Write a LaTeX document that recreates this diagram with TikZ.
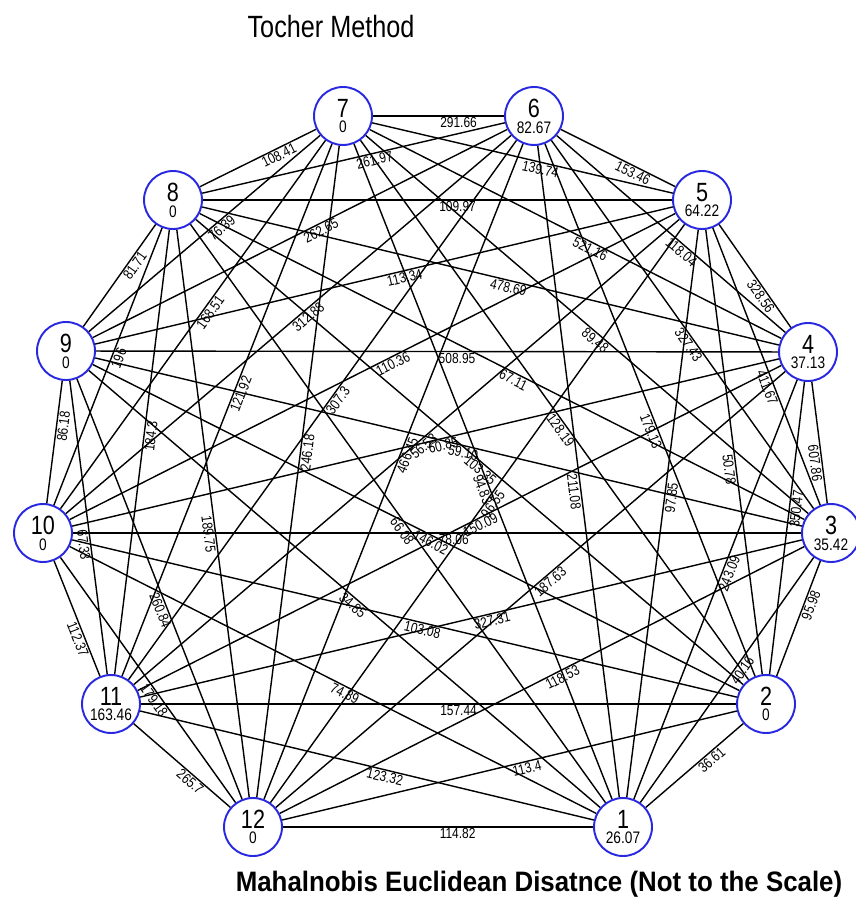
\documentclass[tikz,border=0pt]{standalone}
\usepackage{fontspec}
\setmainfont{Liberation Sans}[FakeStretch=0.82]
\newfontfamily\capfont{Liberation Sans}[FakeStretch=0.92]
\usetikzlibrary{positioning}
\definecolor{ringblue}{RGB}{40,40,225}
% number of the genotype over its intra-cluster value
\newcommand{\stn}[2]{\vbox{\offinterlineskip\halign{\hfil##\hfil\cr
  \fontsize{15}{15}\selectfont#1\cr\noalign{\kern2.3pt}
  \fontsize{9.5}{9.5}\selectfont#2\cr}}}

\begin{document}
\begin{tikzpicture}[x=0.02cm, y=-0.02cm,
  geno/.style={circle, draw=ringblue, line width=1.1pt, fill=white, minimum size=1.16cm, inner sep=0pt},
  link/.style={line width=0.8pt},
  wt/.style={font=\fontsize{8.3}{8.3}\selectfont, sloped, midway, anchor=north west, inner sep=0.6pt}
]
\useasboundingbox (0,0) rectangle (855,905);

\node[font=\fontsize{17.5}{20}\selectfont, anchor=base] (title) at (331,38) {Tocher Method};
\node[font=\capfont\bfseries\fontsize{16}{18}\selectfont, anchor=base] (caption) at (539,891) {Mahalnobis Euclidean Disatnce (Not to the Scale)};

\node[geno] (g1) at (623,827) {\stn{1}{26.07}};
\node[geno] (g2) at (766,704) {\stn{2}{0}};
\node[geno] (g3) at (831,533) {\stn{3}{35.42}};
\node[geno] (g4) at (808,352) {\stn{4}{37.13}};
\node[geno] (g5) at (702,200) {\stn{5}{64.22}};
\node[geno] (g6) at (534,116) {\stn{6}{82.67}};
\node[geno] (g7) at (343,116) {\stn{7}{0}};
\node[geno] (g8) at (173,200) {\stn{8}{0}};
\node[geno] (g9) at (66,351) {\stn{9}{0}};
\node[geno] (g10) at (43,533) {\stn{10}{0}};
\node[geno] (g11) at (111,704) {\stn{11}{163.46}};
\node[geno] (g12) at (253,827) {\stn{12}{0}};

% neighbours
\draw[link] (g1) -- node[wt] {36.61} (g2);
\draw[link] (g2) -- node[wt] {95.98} (g3);
\draw[link] (g3) -- node[wt] {607.86} (g4);
\draw[link] (g4) -- node[wt] {328.56} (g5);
\draw[link] (g5) -- node[wt] {153.46} (g6);
\draw[link] (g6) -- node[wt] {291.66} (g7);
\draw[link] (g7) -- node[wt] {108.41} (g8);
\draw[link] (g8) -- node[wt] {81.71} (g9);
\draw[link] (g9) -- node[wt] {86.18} (g10);
\draw[link] (g10) -- node[wt] {112.37} (g11);
\draw[link] (g11) -- node[wt] {265.7} (g12);
\draw[link] (g12) -- node[wt] {114.82} (g1);
% two apart
\draw[link] (g1) -- node[wt] {40.16} (g3);
\draw[link] (g2) -- node[wt] {350.47} (g4);
\draw[link] (g3) -- node[wt] {411.67} (g5);
\draw[link] (g4) -- node[wt] {118.04} (g6);
\draw[link] (g5) -- node[wt] {139.74} (g7);
\draw[link] (g6) -- node[wt] {261.97} (g8);
\draw[link] (g7) -- node[wt] {76.39} (g9);
\draw[link] (g8) -- node[wt] {196} (g10);
\draw[link] (g9) -- node[wt] {67.33} (g11);
\draw[link] (g10) -- node[wt] {179.18} (g12);
\draw[link] (g11) -- node[wt] {123.32} (g1);
\draw[link] (g12) -- node[wt] {113.4} (g2);
% three apart
\draw[link] (g1) -- node[wt] {243.09} (g4);
\draw[link] (g2) -- node[wt] {50.78} (g5);
\draw[link] (g3) -- node[wt] {327.43} (g6);
\draw[link] (g4) -- node[wt] {521.16} (g7);
\draw[link] (g5) -- node[wt] {109.97} (g8);
\draw[link] (g6) -- node[wt] {262.65} (g9);
\draw[link] (g7) -- node[wt] {168.51} (g10);
\draw[link] (g8) -- node[wt] {184.3} (g11);
\draw[link] (g9) -- node[wt] {260.84} (g12);
\draw[link] (g10) -- node[wt] {74.89} (g1);
\draw[link] (g11) -- node[wt] {157.44} (g2);
\draw[link] (g12) -- node[wt] {118.53} (g3);
% four apart
\draw[link] (g1) -- node[wt] {97.85} (g5);
\draw[link] (g2) -- node[wt] {179.13} (g6);
\draw[link] (g3) -- node[wt] {89.48} (g7);
\draw[link] (g4) -- node[wt] {478.69} (g8);
\draw[link] (g5) -- node[wt] {113.34} (g9);
\draw[link] (g6) -- node[wt] {312.88} (g10);
\draw[link] (g7) -- node[wt] {121.92} (g11);
\draw[link] (g8) -- node[wt] {189.75} (g12);
\draw[link] (g9) -- node[wt] {34.85} (g1);
\draw[link] (g10) -- node[wt] {103.08} (g2);
\draw[link] (g11) -- node[wt] {327.31} (g3);
\draw[link] (g12) -- node[wt] {187.63} (g4);
% five apart
\draw[link] (g1) -- node[wt] {211.08} (g6);
\draw[link] (g2) -- node[wt] {128.19} (g7);
\draw[link] (g3) -- node[wt] {67.11} (g8);
\draw[link] (g4) -- node[wt] {508.95} (g9);
\draw[link] (g5) -- node[wt] {110.36} (g10);
\draw[link] (g6) -- node[wt] {307.3} (g11);
\draw[link] (g7) -- node[wt] {246.18} (g12);
\draw[link] (g8) -- node[wt] {66.08} (g1);
\draw[link] (g9) -- node[wt] {146.02} (g2);
\draw[link] (g10) -- node[wt] {78.06} (g3);
\draw[link] (g11) -- node[wt] {150.09} (g4);
\draw[link] (g12) -- node[wt] {96.55} (g5);
% opposite
\draw[link] (g1) -- node[wt] {94.83} (g7);
\draw[link] (g2) -- node[wt] {103.35} (g8);
\draw[link] (g3) -- node[wt] {59.10} (g9);
\draw[link] (g4) -- node[wt] {60.85} (g10);
\draw[link] (g5) -- node[wt] {56.53} (g11);
\draw[link] (g6) -- node[wt] {466.45} (g12);

\end{tikzpicture}
\end{document}
